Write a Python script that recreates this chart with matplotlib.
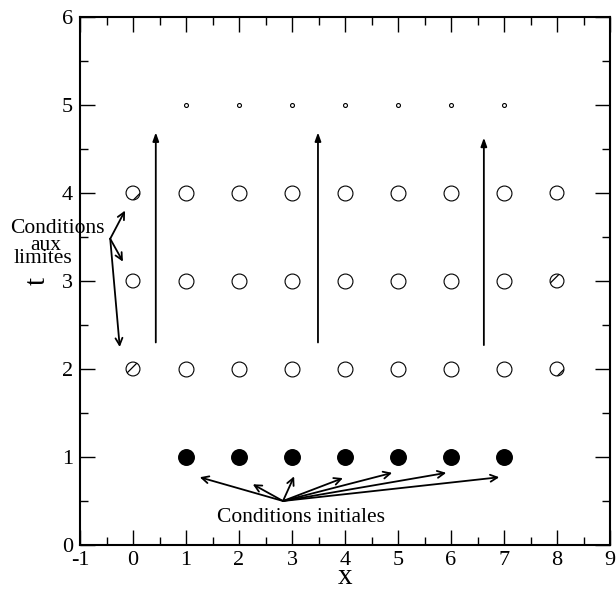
import numpy as np
import matplotlib
matplotlib.use('Agg')
from matplotlib import pyplot as plt

plt.rcParams['font.family'] = ['Liberation Serif', 'DejaVu Serif']
plt.rcParams['axes.unicode_minus'] = False
plt.rcParams['hatch.linewidth'] = 0.9

# grid points
x_inner = [1, 2, 3, 4, 5, 6, 7]
x_bound = [0, 8]
t_rows = [2, 3, 4]
t_init = 1
t_next = 5

# arrows: "Conditions initiales"
ci_from = (2.83, 0.50)
ci_to_x = [1.26, 2.26, 3.04, 3.96, 4.89, 5.91, 6.91]
ci_to_t = [0.77, 0.69, 0.78, 0.76, 0.82, 0.82, 0.77]

# arrows: "Conditions aux limites"
cl_from = (-0.43, 3.48)
cl_to_x = [-0.15, -0.19, -0.25]
cl_to_t = [3.80, 3.22, 2.25]

# vertical time arrows
v_x = [0.43, 3.49, 6.62]
v_t0 = [2.27, 2.27, 2.24]
v_t1 = [4.72, 4.72, 4.66]

fig = plt.figure(figsize=(6.16, 5.89), dpi=100)
ax = fig.add_axes([80/616, 44/589, 530/616, 528/589])

xi, ti = np.meshgrid(x_inner, t_rows)
ax.scatter(xi.ravel(), ti.ravel(), s=115, facecolor='white', edgecolor='black', linewidth=0.8, zorder=3)
xb, tb = np.meshgrid(x_bound, t_rows)
ax.scatter(xb.ravel(), tb.ravel(), s=100, facecolor='white', edgecolor='black', linewidth=0.8, hatch='/', zorder=3)
ax.scatter(x_inner, [t_init]*len(x_inner), s=125, color='black', zorder=3)
ax.scatter(x_inner, [t_next]*len(x_inner), s=8, facecolor='white', edgecolor='black', linewidth=0.8, zorder=3)

for x, a, b in zip(v_x, v_t0, v_t1):
    ax.annotate('', xy=(x, b), xytext=(x, a),
                arrowprops=dict(arrowstyle='-|>,head_length=0.5,head_width=0.18', color='black', lw=1.3))

for x, t in zip(ci_to_x, ci_to_t):
    ax.annotate('', xy=(x, t), xytext=ci_from,
                arrowprops=dict(arrowstyle='->,head_length=0.5,head_width=0.25', color='black', lw=1.3,
                                shrinkA=0, shrinkB=0))
for x, t in zip(cl_to_x, cl_to_t):
    ax.annotate('', xy=(x, t), xytext=cl_from,
                arrowprops=dict(arrowstyle='->,head_length=0.5,head_width=0.25', color='black', lw=1.3,
                                shrinkA=0, shrinkB=0))

ax.text(3.17, 0.26, 'Conditions initiales', ha='center', va='baseline', fontsize=15.5)
ax.text(-1.43, 3.545, 'Conditions', ha='center', va='baseline', fontsize=15.5, clip_on=False)
ax.text(-1.64, 3.35, 'aux', ha='center', va='baseline', fontsize=15.5, clip_on=False)
ax.text(-1.70, 3.205, 'limites', ha='center', va='baseline', fontsize=15.5, clip_on=False)

ax.set_xlim(-1, 9)
ax.set_ylim(0, 6)
ax.set_xticks(range(-1, 10))
ax.set_yticks(range(0, 7))
ax.set_xticks(np.arange(-0.5, 9, 1), minor=True)
ax.set_yticks(np.arange(0.5, 6, 1), minor=True)
ax.tick_params(which='both', direction='in', top=True, right=True, labelsize=16, width=1)
ax.tick_params(which='major', length=11)
ax.tick_params(which='minor', length=6)
ax.tick_params(axis='x', pad=4)
ax.tick_params(axis='y', pad=5)
for s in ax.spines.values():
    s.set_linewidth(1.5)
ax.set_xlabel('x', fontsize=21, labelpad=-4)
ax.set_ylabel('t', fontsize=21, labelpad=8)

plt.savefig('out.png', dpi=100)
